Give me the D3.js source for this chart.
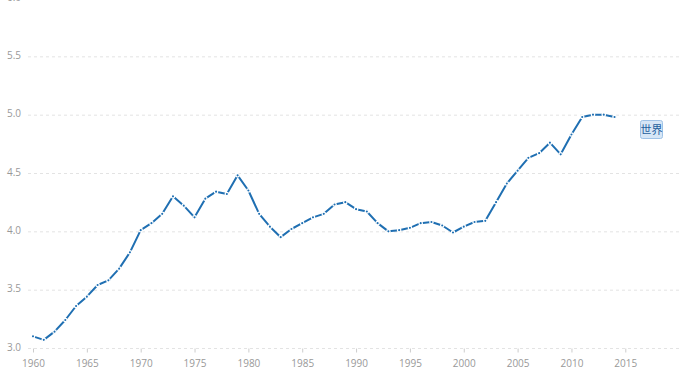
<!DOCTYPE html>
<html>
<head>
<meta charset="utf-8">
<script src="https://cdn.jsdelivr.net/npm/d3@7"></script>
<style>
  body { margin: 0; background: #fff; }
  svg { display: block; font-family: "Open Sans", sans-serif; }
</style>
</head>
<body>
<svg id="chart" width="680" height="390"></svg>
<script>
// 年份与数值
const years = d3.range(1960, 2015);
const values = [
  3.10, 3.07, 3.14, 3.24, 3.36, 3.44, 3.54, 3.58, 3.68, 3.82,
  4.01, 4.07, 4.15, 4.30, 4.22, 4.12, 4.28, 4.34, 4.32, 4.48,
  4.35, 4.15, 4.04, 3.95, 4.02, 4.07, 4.12, 4.15, 4.23, 4.25,
  4.19, 4.17, 4.07, 4.00, 4.01, 4.03, 4.07, 4.08, 4.05, 3.99,
  4.04, 4.08, 4.09, 4.25, 4.41, 4.52, 4.63, 4.67, 4.76, 4.66,
  4.83, 4.98, 5.00, 5.00, 4.98
];
const yTicks = [3.0, 3.5, 4.0, 4.5, 5.0, 5.5, 6.0];
const xTicks = [1960, 1965, 1970, 1975, 1980, 1985, 1990, 1995, 2000, 2005, 2010, 2015];
const seriesName = "世界";

const data = years.map((y, i) => ({ year: y, value: values[i] }));

const svg = d3.select("#chart");
const lineColor = "#1f6fb2";

const x = d3.scaleLinear().domain([1960, 2015]).range([33, 625.3]);
const y = d3.scaleLinear().domain([3, 6]).range([348, -2]);

// 网格线
svg.append("g")
  .selectAll("line")
  .data(yTicks)
  .join("line")
  .attr("x1", 28)
  .attr("x2", 680)
  .attr("y1", d => y(d) + 0.5)
  .attr("y2", d => y(d) + 0.5)
  .attr("stroke", "#e3e3e3")
  .attr("stroke-width", 1)
  .attr("stroke-dasharray", "3,3");

// y 轴标签
svg.append("g")
  .selectAll("text")
  .data(yTicks)
  .join("text")
  .attr("x", 21)
  .attr("y", d => y(d) + 2.5)
  .attr("text-anchor", "end")
  .attr("font-size", 10)
  .attr("fill", "#999")
  .text(d => d.toFixed(1));

// x 轴
const xAxis = svg.append("g")
  .attr("transform", `translate(0,${y(3) + 0.5})`)
  .call(d3.axisBottom(x).tickValues(xTicks).tickFormat(d3.format("d")).tickSize(4).tickPadding(7));
xAxis.select(".domain").remove();
xAxis.selectAll("line").attr("stroke", "#ccc");
xAxis.selectAll("text")
  .attr("fill", "#999")
  .attr("font-size", 10)
  .attr("font-family", "'Open Sans', sans-serif");

// 折线
const line = d3.line()
  .x(d => x(d.year))
  .y(d => y(d.value));

svg.append("path")
  .datum(data)
  .attr("fill", "none")
  .attr("stroke", lineColor)
  .attr("stroke-width", 2)
  .attr("stroke-linejoin", "round")
  .attr("d", line);

// 数据点（白边造成断点效果）
svg.append("g")
  .selectAll("circle")
  .data(data)
  .join("circle")
  .attr("cx", d => x(d.year))
  .attr("cy", d => y(d.value))
  .attr("r", 1.7)
  .attr("fill", lineColor)
  .attr("stroke", "#fff")
  .attr("stroke-width", 1.3);

// 系列标签
const label = svg.append("g").attr("transform", "translate(640.5,120.5)");
label.append("rect")
  .attr("width", 22)
  .attr("height", 18)
  .attr("rx", 2)
  .attr("fill", "#d6e6f6")
  .attr("stroke", "#9fc2e6");
label.append("text")
  .attr("x", 11)
  .attr("y", 13.5)
  .attr("text-anchor", "middle")
  .attr("font-size", 11)
  .attr("font-family", "'Noto Sans CJK SC', sans-serif")
  .attr("fill", "#1f5f9e")
  .text(seriesName);
</script>
</body>
</html>
